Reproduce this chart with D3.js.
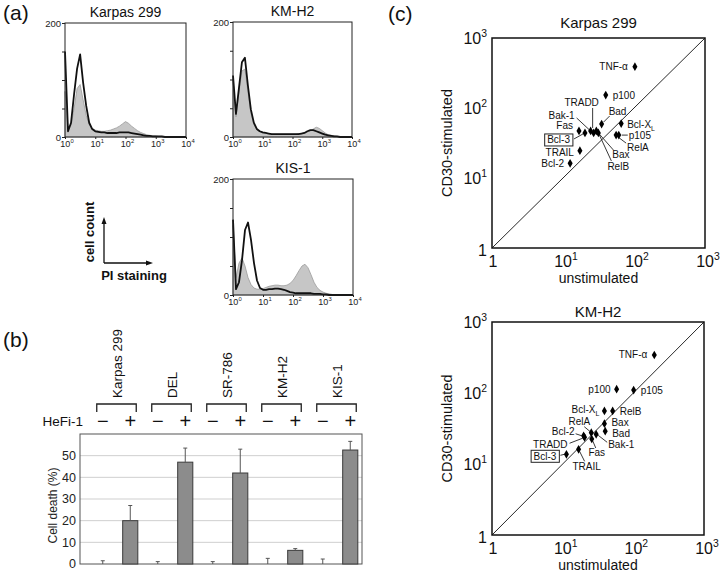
<!DOCTYPE html>
<html><head><meta charset="utf-8">
<script src="https://cdn.jsdelivr.net/npm/d3@7"></script>
<style>body{margin:0;background:#fff}svg{display:block;font-family:"Liberation Sans",Arial,Helvetica,sans-serif}</style>
</head><body>
<svg id="fig" width="720" height="572"></svg>
<script>
// ================= DATA =================
// (a) PI-staining histograms: log10 channel bins, counts
const histBins = [0,0.1,0.2,0.3,0.4,0.5,0.6,0.7,0.8,0.9,1,1.1,1.2,1.3,1.4,1.5,1.6,1.7,1.8,1.9,2,2.1,2.2,2.3,2.4,2.5,2.6,2.7,2.8,2.9,3,3.1,3.2,3.3,3.4,3.5,3.6,3.7,3.8,3.9,4];
const karpasControl = [150,10,25,75,120,145,95,55,25,14,10,9,8,8,7,7,7,7,8,8,8,8,7,6,5,4,3,2,2,1,1,1,1,0,0,0,0,0,0,0,0];
const karpasTreated = [80,15,20,50,85,92,65,38,22,15,12,11,10,10,11,12,14,16,19,23,27,24,19,15,11,8,6,4,3,2,2,1,1,1,0,0,0,0,0,0,0];
const kmh2Control = [107,40,85,130,138,90,48,25,14,10,8,7,6,5,5,5,5,5,5,5,5,5,5,6,7,10,12,12,10,8,6,4,3,2,1,1,0,0,0,0,0];
const kmh2Treated = [100,35,78,115,118,80,42,22,13,9,7,6,6,5,5,5,5,5,5,5,5,5,6,6,7,9,11,14,17,15,11,7,4,3,2,1,0,0,0,0,0];
const kis1Control = [130,10,22,60,112,125,95,55,25,12,9,9,10,10,11,11,10,9,7,5,4,3,3,3,3,3,3,2,2,2,1,1,0,0,0,0,0,0,0,0,0];
const kis1Treated = [120,30,55,64,50,30,18,12,10,10,11,13,15,16,17,17,16,16,17,20,25,33,42,50,53,47,35,22,13,8,5,3,2,1,0,0,0,0,0,0,0];
const histCountTicks = [0,50,100,150,200];
const histCountLabels = [0,200];
const histDecades = [0,1,2,3,4];

// (b) cell death (%)
const barGroups = ["Karpas 299","DEL","SR-786","KM-H2","KIS-1"];
const hefiMinus = [0,0,0,0,0];
const hefiMinusErr = [1.5,1.1,1.1,2.6,2.3];
const hefiPlus = [20,47,42,6.3,52.6];
const hefiPlusErr = [7,6.5,11,0.8,4];
const deathTicks = [0,10,20,30,40,50];

// (c) expression, unstimulated vs CD30-stimulated
const genes = ["TNF-α","p100","p105","Bcl-XL","RelA","RelB","Bax","Bad","Bak-1","Fas","Bcl-3","TRADD","TRAIL","Bcl-2"];
const karpasUnstim = [103,40,61,66,56,31.5,29.5,35,27,16.8,20.4,24.5,17.3,12.6];
const karpasStim   = [389,153,41,60,41,44,47,59,44,47,44,47,24.6,16.2];
const kmh2Unstim   = [198,58,101,39,25.4,51,39,40,29.8,25.8,11.3,20.4,16.8,19.8];
const kmh2Stim     = [343,113,110,56,27.6,56,37,29,26.2,22.5,13.7,23.8,16.1,25];
const logTicks = [1,10,100,1000];

// ================= LAYOUT (positions only) =================
const karpasLabelPos = [
  {dx:-7,dy:0,a:"end"}, {dx:7,dy:0,a:"start"}, {dx:10,dy:0,a:"start",l:[3,0,9,0]},
  {dx:6,dy:1,a:"start"}, {dx:11,dy:12,a:"start",l:[2,2,10,8]}, {dx:9,dy:34,a:"start",l:[1,2,13,28]},
  {dx:16,dy:24,a:"start",l:[2,2,17,19]}, {dx:7,dy:-13,a:"start",l:[2,-2,8,-8]},
  {dx:-19,dy:-17,a:"end",l:[-2,-1,-17,-15]}, {dx:-6,dy:-5,a:"end"},
  {dx:-15,dy:7,a:"end",box:true,l:[-2,1,-11,6]}, {dx:-9,dy:-28,a:"middle",l:[2,-3,2,-23]},
  {dx:-6,dy:2,a:"end"}, {dx:-6,dy:0,a:"end"}
];
const kmh2LabelPos = [
  {dx:-7,dy:0,a:"end"}, {dx:-6,dy:0,a:"end"}, {dx:7,dy:0,a:"start"},
  {dx:-5,dy:-1,a:"end"}, {dx:-12,dy:-11,a:"middle",l:[-1,-1,-7,-6]}, {dx:7,dy:1,a:"start"},
  {dx:7,dy:-1,a:"start"}, {dx:7,dy:2,a:"start"}, {dx:12,dy:10,a:"start",l:[2,1,11,8]},
  {dx:5,dy:14,a:"middle",l:[1,2,4,9]}, {dx:-10,dy:2,a:"end",box:true,l:[-2,0,-6,1]},
  {dx:-17,dy:7,a:"end",l:[-2,1,-15,6]}, {dx:8,dy:17,a:"middle",l:[1,2,6,12]},
  {dx:-9,dy:-4,a:"end",l:[-2,0,-8,-2]}
];

const svg = d3.select("#fig");
svg.append("rect").attr("width",720).attr("height",572).attr("fill","#fff");

function supText(sel, base, exp, fs) {
  sel.append("tspan").text(base);
  if (exp !== null) sel.append("tspan").attr("dy", -fs*0.42).attr("font-size", fs*0.65).text(exp);
}
function powLabel(v){ return v===1 ? ["1",null] : ["10", String(Math.round(Math.log10(v)))]; }

// panel letters
[["(a)",3,20],["(b)",3,347],["(c)",388,21]].forEach(([t,x,y])=>{
  svg.append("text").attr("x",x).attr("y",y).attr("font-size",21).attr("fill","#111").text(t);
});

// ================= (a) histograms =================
function drawHist(box, title, control, treated) {
  const g = svg.append("g");
  const x = d3.scaleLinear().domain([0,4]).range([box.x0, box.x1]);
  const y = d3.scaleLinear().domain([0,200]).range([box.y1, box.y0]);
  const pts = arr => histBins.map((b,i)=>[b, arr[i]]);
  const area = d3.area().x(d=>x(d[0])).y0(y(0)).y1(d=>y(d[1])).curve(d3.curveLinear);
  const line = d3.line().x(d=>x(d[0])).y(d=>y(d[1])).curve(d3.curveLinear);
  g.append("path").attr("d", area(pts(treated))).attr("fill","#c6c6c6").attr("stroke","#9a9a9a").attr("stroke-width",0.8);
  g.append("path").attr("d", line(pts(control))).attr("fill","none").attr("stroke","#111").attr("stroke-width",1.8).attr("stroke-linejoin","round");
  g.append("rect").attr("x",box.x0).attr("y",box.y0).attr("width",box.x1-box.x0).attr("height",box.y1-box.y0)
    .attr("fill","none").attr("stroke","#222").attr("stroke-width",1);
  const ya = g.append("g").attr("transform",`translate(${box.x0},0)`)
    .call(d3.axisLeft(y).tickValues(histCountTicks).tickSize(3).tickSizeOuter(0).tickFormat(d=>histCountLabels.includes(d)?d:""));
  ya.select(".domain").remove();
  ya.selectAll("line").attr("stroke","#222");
  ya.selectAll("text").attr("font-size",9.5).attr("font-family",null).attr("fill","#222").attr("x",-4);
  const xa = g.append("g").attr("transform",`translate(0,${box.y1})`)
    .call(d3.axisBottom(x).tickValues(histDecades).tickSize(2).tickSizeOuter(0).tickFormat(""));
  xa.select(".domain").remove();
  xa.selectAll("line").attr("stroke","#222");
  histDecades.forEach(d=>{
    const t = g.append("text").attr("x", x(d)+2).attr("y", box.y1+9.5).attr("text-anchor","middle").attr("font-size",9).attr("fill","#222");
    supText(t, "10", String(d), 9);
  });
  g.append("text").attr("x",(box.x0+box.x1)/2).attr("y",box.y0-6).attr("text-anchor","middle").attr("font-size",14).attr("fill","#111").text(title);
}
drawHist({x0:65,x1:186,y0:23,y1:137}, "Karpas 299", karpasControl, karpasTreated);
drawHist({x0:233,x1:352,y0:22,y1:137}, "KM-H2", kmh2Control, kmh2Treated);
drawHist({x0:233,x1:353,y0:179,y1:295}, "KIS-1", kis1Control, kis1Treated);

// legend arrows
const lg = svg.append("g").attr("stroke","#111").attr("stroke-width",1.3).attr("fill","none");
lg.append("path").attr("d","M104,263 V221 M104,263 H149");
svg.append("path").attr("d","M104,217 l-2.5,7 h5 Z M153,263 l-7,-2.5 v5 Z").attr("fill","#111");
svg.append("text").attr("transform","translate(94,232) rotate(-90)").attr("text-anchor","middle")
  .attr("font-size",13).attr("font-weight","bold").attr("fill","#111").text("cell count");
svg.append("text").attr("x",134).attr("y",280).attr("text-anchor","middle")
  .attr("font-size",13).attr("font-weight","bold").attr("fill","#111").text("PI staining");

// ================= (b) bars =================
(function(){
  const keys = [];
  barGroups.forEach(g=>{keys.push(g+"|-"); keys.push(g+"|+");});
  const bx = d3.scaleBand().domain(keys).range([89,364]).paddingInner(0.45).paddingOuter(0.225);
  const by = d3.scaleLinear().domain([0,60]).range([564,434]);
  const g = svg.append("g");
  const L = 80, R = 362;
  g.selectAll("line.grid").data(deathTicks.filter(d=>d>0)).join("line")
    .attr("x1",L).attr("x2",R).attr("y1",d=>by(d)).attr("y2",d=>by(d)).attr("stroke","#cfcfcf").attr("stroke-width",1);
  g.append("rect").attr("x",L).attr("y",by(60)).attr("width",R-L).attr("height",by(0)-by(60))
    .attr("fill","none").attr("stroke","#555").attr("stroke-width",1);
  g.selectAll("text.yt").data(deathTicks).join("text").attr("x",L-4).attr("y",d=>by(d)).attr("dy","0.35em")
    .attr("text-anchor","end").attr("font-size",12.5).attr("fill","#222").text(d=>d);
  g.append("text").attr("transform",`translate(53,${by(27)}) rotate(-90)`).attr("dy","0.35em").attr("text-anchor","middle")
    .attr("font-size",12).attr("fill","#222").text("Cell death (%)");
  const rows = [];
  barGroups.forEach((gr,i)=>{
    rows.push({k:gr+"|-", v:hefiMinus[i], e:hefiMinusErr[i]});
    rows.push({k:gr+"|+", v:hefiPlus[i], e:hefiPlusErr[i]});
  });
  g.selectAll("rect.bar").data(rows.filter(r=>r.v>0)).join("rect")
    .attr("x",r=>bx(r.k)).attr("width",bx.bandwidth()).attr("y",r=>by(r.v)).attr("height",r=>by(0)-by(r.v))
    .attr("fill","#8c8c8c").attr("stroke","#3a3a3a").attr("stroke-width",1);
  const cx = k => bx(k)+bx.bandwidth()/2;
  g.selectAll("path.err").data(rows).join("path")
    .attr("d", r=>`M${cx(r.k)},${by(r.v)} V${by(r.v+r.e)} M${cx(r.k)-2},${by(r.v+r.e)} H${cx(r.k)+2}`)
    .attr("stroke","#555").attr("stroke-width",1).attr("fill","none");
  // headers
  g.append("text").attr("x",83).attr("y",421).attr("dy","0.35em").attr("text-anchor","end").attr("font-size",13.5).attr("fill","#111").text("HeFi-1");
  barGroups.forEach(gr=>{
    const xm = cx(gr+"|-"), xp = cx(gr+"|+");
    g.append("text").attr("x",xm).attr("y",421).attr("dy","0.35em").attr("text-anchor","middle").attr("font-size",20).attr("fill","#111").text("−");
    g.append("text").attr("x",xp).attr("y",421).attr("dy","0.35em").attr("text-anchor","middle").attr("font-size",20).attr("fill","#111").text("+");
    g.append("path").attr("d",`M${xm-6},412 V404 H${xp+6} V412`).attr("fill","none").attr("stroke","#222").attr("stroke-width",1.3);
    g.append("text").attr("transform",`translate(${(xm+xp)/2+1},398) rotate(-90)`).attr("dy","0.35em")
      .attr("font-size",13.5).attr("fill","#111").text(gr);
  });
})();

// ================= (c) scatter =================
function drawScatter(cfg, title, unstim, stim, layout) {
  const g = svg.append("g");
  const x = d3.scaleLog().domain([1,1000]).range([cfg.x0, cfg.x1]);
  const y = d3.scaleLog().domain([1,1000]).range([cfg.y1, cfg.y0]);
  g.append("rect").attr("x",cfg.x0).attr("y",cfg.y0).attr("width",cfg.x1-cfg.x0).attr("height",cfg.y1-cfg.y0)
    .attr("fill","none").attr("stroke","#111").attr("stroke-width",1.5);
  g.append("line").attr("x1",x(1)).attr("y1",y(1)).attr("x2",x(1000)).attr("y2",y(1000)).attr("stroke","#111").attr("stroke-width",0.9);
  logTicks.forEach(v=>{
    const [b,e] = powLabel(v);
    const ty = g.append("text").attr("x",cfg.x0-5).attr("y",y(v)+(v===1?2:0)).attr("dy","0.35em").attr("text-anchor","end").attr("font-size",16).attr("fill","#111");
    supText(ty,b,e,16);
    const tx = g.append("text").attr("x",x(v)+(v===1?1:3)).attr("y",cfg.y1+18.5).attr("text-anchor","middle").attr("font-size",16).attr("fill","#111");
    supText(tx,b,e,16);
  });
  g.append("text").attr("x",(cfg.x0+cfg.x1)/2).attr("y",cfg.y1+35).attr("text-anchor","middle").attr("font-size",14).attr("fill","#111").text("unstimulated");
  g.append("text").attr("transform",`translate(${cfg.x0-45},${(cfg.y0+cfg.y1)/2}) rotate(-90)`).attr("dy","0.35em")
    .attr("text-anchor","middle").attr("font-size",14.5).attr("fill","#111").text("CD30-stimulated");
  g.append("text").attr("x",(cfg.x0+cfg.x1)/2).attr("y",cfg.ty).attr("text-anchor","middle").attr("font-size",15).attr("fill","#111").text(title);
  const rows = genes.map((n,i)=>({n, u:unstim[i], s:stim[i], p:layout[i]}));
  const sym = d3.symbol(d3.symbolDiamond, 22);
  rows.forEach(r=>{
    const px = x(r.u), py = y(r.s), p = r.p;
    if (p.l) g.append("line").attr("x1",px+p.l[0]).attr("y1",py+p.l[1]).attr("x2",px+p.l[2]).attr("y2",py+p.l[3]).attr("stroke","#222").attr("stroke-width",0.9);
    const t = g.append("text").attr("x",px+p.dx).attr("y",py+p.dy).attr("dy","0.35em").attr("text-anchor",p.a).attr("font-size",10).attr("fill","#111");
    if (r.n === "Bcl-XL") { t.append("tspan").text("Bcl-X"); t.append("tspan").attr("dy",3).attr("font-size",7).text("L"); }
    else t.text(r.n);
    if (p.box) {
      const bb = t.node().getBBox();
      g.insert("rect", () => t.node()).attr("x",bb.x-2.5).attr("y",bb.y-0.5).attr("width",bb.width+5).attr("height",bb.height+1)
        .attr("fill","#fff").attr("stroke","#222").attr("stroke-width",1);
    }
  });
  g.selectAll("path.pt").data(rows).join("path").attr("d",sym).attr("transform",r=>`translate(${x(r.u)},${y(r.s)})`).attr("fill","#000");
}
drawScatter({x0:492,x1:705,y0:38,y1:248,ty:28}, "Karpas 299", karpasUnstim, karpasStim, karpasLabelPos);
drawScatter({x0:492,x1:704,y0:322,y1:535,ty:317}, "KM-H2", kmh2Unstim, kmh2Stim, kmh2LabelPos);
</script>
</body></html>
